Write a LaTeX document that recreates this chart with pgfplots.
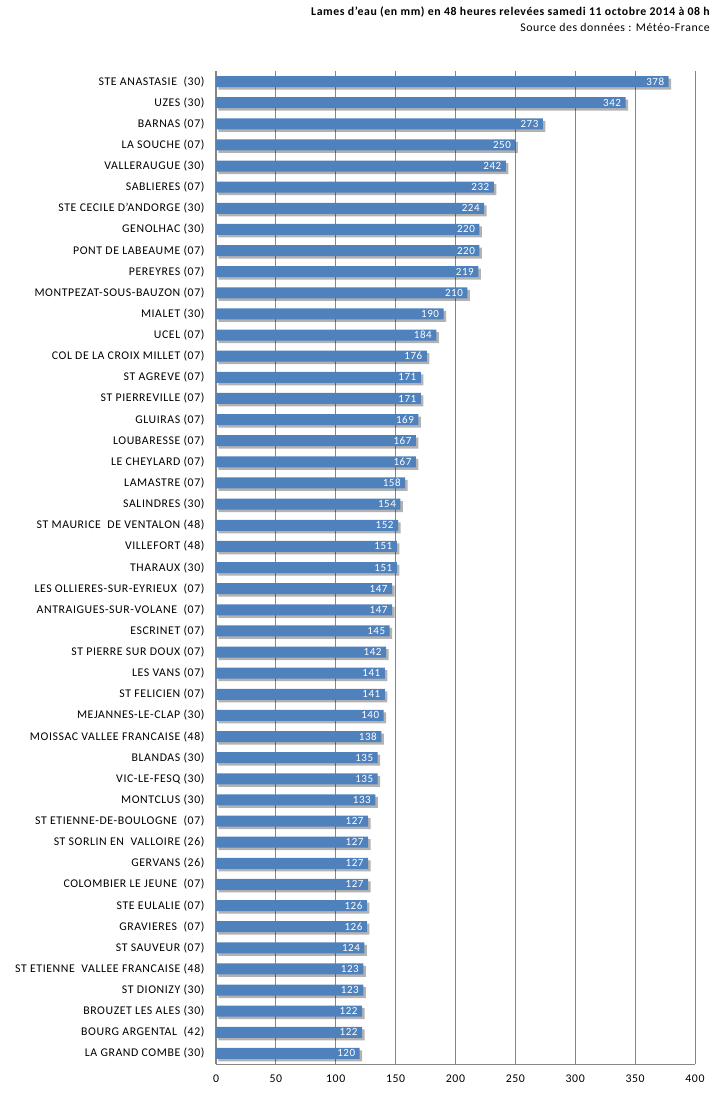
\documentclass[border=0pt]{standalone}
\usepackage{fontspec}
\setmainfont{Carlito}[LetterSpace=5]
\usepackage{pgfplots}
\pgfplotsset{compat=1.18}
\usetikzlibrary{shadows}
\definecolor{barblue}{HTML}{4F81BD}
\definecolor{gridgray}{HTML}{868686}

\begin{document}
\begin{tikzpicture}[font=\fontsize{11.8}{13}\selectfont]
\path[use as bounding box] (-216pt,-40pt) rectangle (499pt,1064pt);
\begin{axis}[
  scale only axis,
  width=479pt, height=993pt,
  xbar, bar width=11pt,
  xmin=0, xmax=400,
  ymin=-0.5, ymax=46.5,
  y dir=reverse,
  axis lines=left,
  axis line style={-, gridgray, line width=1pt},
  xtick={0,50,...,400},
  ytick={0,...,46},
  major tick length=0pt,
  xmajorgrids,
  major grid style={gridgray, line width=0.8pt},
  /pgf/number format/assume math mode=true,
  ticklabel style={font=\fontsize{11.8}{13}\selectfont},
  xticklabel style={yshift=-7pt},
  yticklabel style={xshift=-8pt},
  yticklabels={
    STE ANASTASIE\ \ (30), UZES (30), BARNAS (07), LA SOUCHE (07), VALLERAUGUE (30),
    SABLIERES (07), STE CECILE D'ANDORGE (30), GENOLHAC (30), PONT DE LABEAUME (07),
    PEREYRES (07), MONTPEZAT-SOUS-BAUZON (07), MIALET (30), UCEL (07),
    COL DE LA CROIX MILLET (07), ST AGREVE (07), ST PIERREVILLE (07), GLUIRAS (07),
    LOUBARESSE (07), LE CHEYLARD (07), LAMASTRE (07), SALINDRES (30),
    ST MAURICE\ \ DE VENTALON (48), VILLEFORT (48), THARAUX (30),
    LES OLLIERES-SUR-EYRIEUX\ \ (07), ANTRAIGUES-SUR-VOLANE\ \ (07), ESCRINET (07),
    ST PIERRE SUR DOUX (07), LES VANS (07), ST FELICIEN (07), MEJANNES-LE-CLAP (30),
    MOISSAC VALLEE FRANCAISE (48), BLANDAS (30), VIC-LE-FESQ (30), MONTCLUS (30),
    ST ETIENNE-DE-BOULOGNE\ \ (07), ST SORLIN EN\ \ VALLOIRE (26), GERVANS (26),
    COLOMBIER LE JEUNE\ \ (07), STE EULALIE (07), GRAVIERES\ \ (07), ST SAUVEUR (07),
    ST ETIENNE\ \ VALLEE FRANCAISE (48), ST DIONIZY (30), BROUZET LES ALES (30),
    BOURG ARGENTAL\ \ (42), LA GRAND COMBE (30)},
  nodes near coords,
  nodes near coords style={anchor=east, white, xshift=-1pt,
    font=\fontsize{11}{12}\selectfont},
  clip=false,
]
\addplot[fill=barblue, draw=none,
  drop shadow={shadow xshift=2.5pt, shadow yshift=-2.5pt, fill=black, opacity=0.3}]
  coordinates {
  (378,0) (342,1) (273,2) (250,3) (242,4) (232,5) (224,6) (220,7) (220,8)
  (219,9) (210,10) (190,11) (184,12) (176,13) (171,14) (171,15) (169,16)
  (167,17) (167,18) (158,19) (154,20) (152,21) (151,22) (151,23) (147,24)
  (147,25) (145,26) (142,27) (141,28) (141,29) (140,30) (138,31) (135,32)
  (135,33) (133,34) (127,35) (127,36) (127,37) (127,38) (126,39) (126,40)
  (124,41) (123,42) (123,43) (122,44) (122,45) (120,46)};
\end{axis}
\node[anchor=base east, inner sep=0pt, font=\fontsize{11.8}{13}\selectfont\bfseries] at (494pt,1048pt)
  {Lames d'eau (en mm) en 48 heures relevées samedi 11 octobre 2014 à 08 h};
\node[anchor=base east, inner sep=0pt, font=\fontsize{11.8}{13}\selectfont] at (494pt,1032pt)
  {Source des données : Météo-France};
\end{tikzpicture}
\end{document}
